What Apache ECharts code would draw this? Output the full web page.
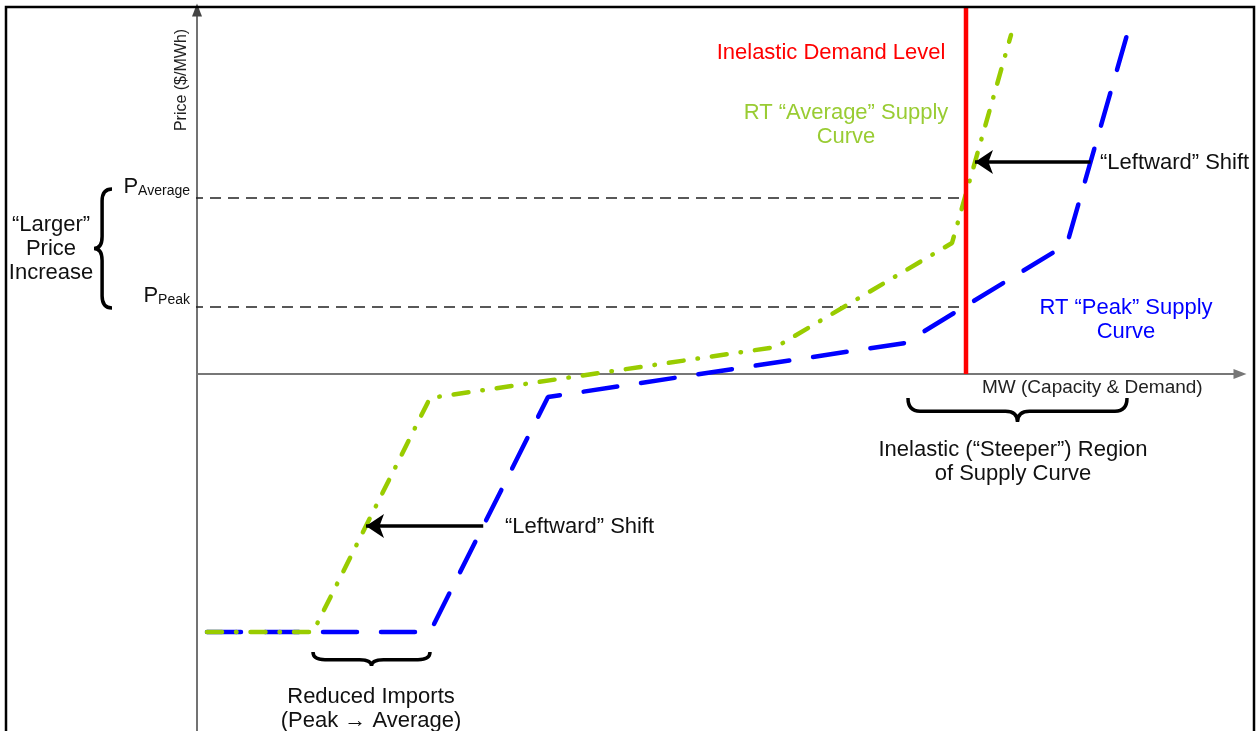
<!DOCTYPE html>
<html><head><meta charset="utf-8">
<script src="https://cdn.jsdelivr.net/npm/echarts@6/dist/echarts.min.js"></script>
<style>html,body{margin:0;padding:0;background:#fff}#c{width:1260px;height:731px}</style>
</head><body><div id="c"></div>
<script>
// Conceptual diagram units: x = MW (capacity & demand), y = price; origin at axes crossing
const averageSupply = [[10,-258],[116,-258],[233,-24],[579,27],[755,131],[814,339]];
const peakSupply    = [[10,-258],[233,-258],[351,-23],[708,31],[870,130],[930,339]];
const demandLevel = 769;          // inelastic demand (MW)
const demandTop = 366;
const pAverage = 176;             // price where demand meets average curve
const pPeak = 67;                 // price where demand meets peak curve
const shiftPrices = [212, -152];  // prices at which the "leftward" shift arrows are drawn
const xRange = [0, 1043];
const yRange = [-357, 364];
// brace spans [x1, y1, x2, y2]
const braceSpans = [[711,-24,930,-24],[116,-278,233,-278],[-85,185,-85,66]];
const braceNormals = [[0,1],[0,1],[-1,0]];
const braceDepths = [24,14,18];

const FONT = '"Liberation Sans", Arial, sans-serif';

function xAtPrice(curve, y){
  for(let i=0;i<curve.length-1;i++){
    const [x0,y0]=curve[i],[x1,y1]=curve[i+1];
    if(y0!==y1 && (y-y0)*(y-y1)<=0) return x0+(x1-x0)*(y-y0)/(y1-y0);
  }
  return null;
}
const arrowData = shiftPrices.map(p => ({coords:[[xAtPrice(peakSupply,p),p],[xAtPrice(averageSupply,p),p]]}));

function renderBrace(params, api){
  const a = api.coord([api.value(0), api.value(1)]);
  const b = api.coord([api.value(2), api.value(3)]);
  const n = braceNormals[params.dataIndex], d = braceDepths[params.dataIndex];
  const L = Math.hypot(b[0]-a[0], b[1]-a[1]);
  const t = [(b[0]-a[0])/L, (b[1]-a[1])/L];
  const r = Math.min(12, L/5);
  const m = [(a[0]+b[0])/2, (a[1]+b[1])/2];
  const h = d*0.55;
  const P = (p,s,k) => [p[0]+t[0]*s+n[0]*k, p[1]+t[1]*s+n[1]*k];
  const f = p => p[0].toFixed(1)+' '+p[1].toFixed(1);
  const path = 'M'+f(a)+' Q'+f(P(a,0,h))+' '+f(P(a,r,h))+' L'+f(P(m,-r,h))+' Q'+f(P(m,0,h))+' '+f(P(m,0,d))+
    ' Q'+f(P(m,0,h))+' '+f(P(m,r,h))+' L'+f(P(b,-r,h))+' Q'+f(P(b,0,h))+' '+f(b);
  return {type:'path', shape:{pathData:path}, style:{fill:'none', stroke:'#000', lineWidth:3.5}};
}

function txt(x, y, text, opts){
  return Object.assign({type:'text', x:x, y:y, z:50, style:Object.assign({
    text:text, fill:'#111', fontSize:22, fontFamily:FONT, align:'center', verticalAlign:'middle', lineHeight:24
  }, opts.style||{})}, opts.el||{});
}

const chart = echarts.init(document.getElementById('c'));
chart.setOption({
  animation:false,
  backgroundColor:'#fff',
  grid:{left:197, right:20, top:10, bottom:0},
  xAxis:{type:'value', min:xRange[0], max:xRange[1],
    axisLine:{show:true, onZero:true, symbol:['none','triangle'], symbolSize:[10,13], lineStyle:{color:'#777', width:2}},
    axisTick:{show:false}, axisLabel:{show:false}, splitLine:{show:false}},
  yAxis:{type:'value', min:yRange[0], max:yRange[1],
    axisLine:{show:true, onZero:false, symbol:['none','triangle'], symbolSize:[10,13], lineStyle:{color:'#444', width:1.5}},
    axisTick:{show:false}, splitLine:{show:false},
    axisLabel:{show:true, customValues:[pAverage, pPeak], margin:7, verticalAlign:'bottom',
      formatter: v => v===pAverage ? '{p|P}{s|Average}' : '{p|P}{s|Peak}',
      rich:{p:{fontSize:22, fontFamily:FONT, color:'#111', verticalAlign:'bottom', lineHeight:24},
            s:{fontSize:14, fontFamily:FONT, color:'#111', verticalAlign:'bottom', lineHeight:20}}}},
  series:[
    {name:'RT Peak Supply Curve', type:'line', data:peakSupply, showSymbol:false, symbol:'none', z:2,
      lineStyle:{color:'#0000ff', width:4.5, type:[34,24], cap:'round'}},
    {name:'RT Average Supply Curve', type:'line', data:averageSupply, showSymbol:false, symbol:'none', z:3,
      lineStyle:{color:'#99cc00', width:4.5, type:[15,14,0.5,14], cap:'round'}},
    {name:'P Average', type:'line', data:[[-5,pAverage],[demandLevel,pAverage]], showSymbol:false, symbol:'none', clip:false, z:1,
      lineStyle:{color:'#222', width:1.3, type:[11,7]}},
    {name:'P Peak', type:'line', data:[[-5,pPeak],[demandLevel,pPeak]], showSymbol:false, symbol:'none', clip:false, z:1,
      lineStyle:{color:'#222', width:1.3, type:[11,7]}},
    {name:'Inelastic Demand', type:'line', data:[[demandLevel,0],[demandLevel,demandTop]], showSymbol:false, symbol:'none', clip:false, z:5,
      lineStyle:{color:'#ff0000', width:4.5}},
    {name:'Shift', type:'lines', coordinateSystem:'cartesian2d', data:arrowData, z:6,
      symbol:['none','arrow'], symbolSize:[16,18], lineStyle:{color:'#000', width:3.5, opacity:1, curveness:0}},
    {name:'Braces', type:'custom', data:braceSpans, encode:{x:[0,2], y:[1,3]}, clip:false, z:6, renderItem:renderBrace}
  ],
  graphic:[
    {type:'rect', z:100, shape:{x:6, y:7, width:1248, height:800}, style:{fill:'none', stroke:'#000', lineWidth:2.5}},
    txt(831, 53, 'Inelastic Demand Level', {style:{fill:'#ff0000'}}),
    txt(846, 101, 'RT \u201cAverage\u201d Supply\nCurve', {style:{fill:'#99cc33', verticalAlign:'top'}}),
    txt(1126, 296, 'RT \u201cPeak\u201d Supply\nCurve', {style:{fill:'#0000ff', verticalAlign:'top'}}),
    txt(1100, 163, '\u201cLeftward\u201d Shift', {style:{align:'left'}}),
    txt(505, 527, '\u201cLeftward\u201d Shift', {style:{align:'left'}}),
    txt(982, 388, 'MW (Capacity & Demand)', {style:{align:'left', fontSize:19, fill:'#222'}}),
    txt(1013, 438, 'Inelastic (\u201cSteeper\u201d) Region\nof Supply Curve', {style:{verticalAlign:'top'}}),
    txt(371, 685, 'Reduced Imports\n(Peak \u2192 Average)', {style:{verticalAlign:'top'}}),
    txt(51, 213, '\u201cLarger\u201d\nPrice\nIncrease', {style:{verticalAlign:'top'}}),
    txt(182, 80, 'Price ($/MWh)', {style:{fontSize:16, fill:'#222'}, el:{rotation:Math.PI/2}})
  ]
});
</script></body></html>
